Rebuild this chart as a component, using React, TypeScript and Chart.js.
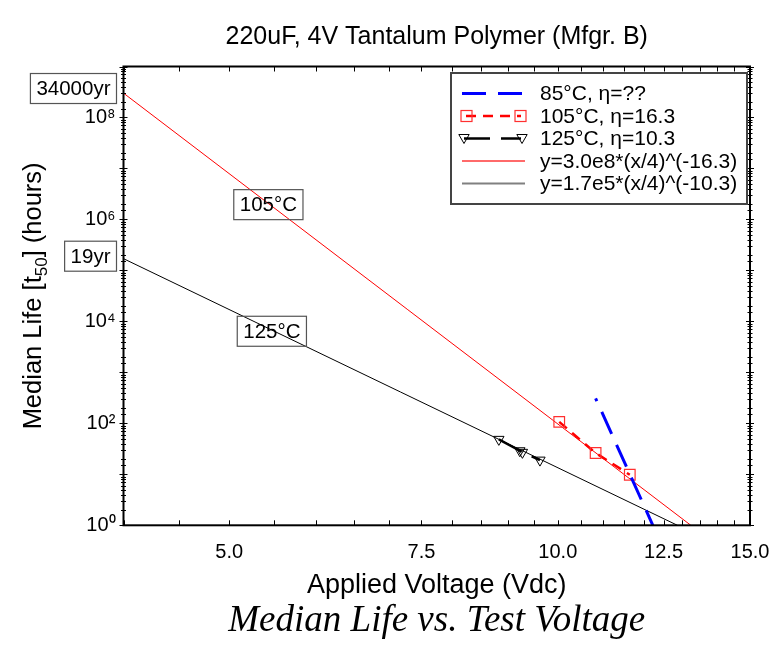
import React, { useEffect, useRef } from 'react';
import { Chart, registerables } from 'chart.js';

Chart.register(...registerables);

// ---------- text ----------
const TITLE = '220uF, 4V Tantalum Polymer (Mfgr. B)';
const X_TITLE = 'Applied Voltage (Vdc)';
const Y_TITLE_PARTS = ['Median Life [t', '50', '] (hours)'];
const CAPTION = 'Median Life vs. Test Voltage';

// ---------- data (voltage in Vdc, life in hours) ----------
const label85 = '85°C, η=??';
const v85 = [10.83, 12.22];
const life85 = [310, 1];

const label105 = '105°C, η=16.3';
const v105 = [10.03, 10.83, 11.64];
const life105 = [107, 26.2, 9.8];

const label125 = '125°C, η=10.3';
const v125 = [8.83, 9.23, 9.28, 9.63];
const life125 = [48.5, 29, 27, 19];

const labelFit105 = 'y=3.0e8*(x/4)^(-16.3)';
const vFit105 = [4, 13.24];
const lifeFit105 = [3.0e8, 1];

const labelFit125 = 'y=1.7e5*(x/4)^(-10.3)';
const vFit125 = [4, 12.87];
const lifeFit125 = [1.7e5, 1];

// ---------- ticks ----------
const xTickValues = [4, 4.5, 5, 5.5, 6, 6.5, 7, 7.5, 8, 8.5, 9, 9.5, 10, 10.5, 11, 11.5, 12, 12.5, 13, 13.5, 14, 14.5, 15];
const xLabeledTicks = [5, 7.5, 10, 12.5, 15];
const yLabeledExponents = [0, 2, 4, 6, 8];
const superscripts: Record<string, string> = { '0': '⁰', '2': '²', '4': '⁴', '6': '⁶', '8': '⁸' };

// ---------- annotations ----------
const tempLabels = ['105°C', '125°C'];
const tempLabelV = [5.43, 5.47];
const tempLabelLife = [1.95e6, 6.4e3];
const yearLabels = ['34000yr', '19yr'];
const yearLabelLife = [3.7e8, 1.9e5];

const SANS = '"Liberation Sans", Arial, Helvetica, sans-serif';
const SERIF = '"Liberation Serif", "Times New Roman", serif';

const pts = (xs: number[], ys: number[]) => xs.map((x, i) => ({ x, y: ys[i] }));

function drawDownTriangle(ctx: CanvasRenderingContext2D, x: number, y: number, r: number) {
  ctx.beginPath();
  ctx.moveTo(x - r * 0.866, y - r * 0.5);
  ctx.lineTo(x + r * 0.866, y - r * 0.5);
  ctx.lineTo(x, y + r);
  ctx.closePath();
  ctx.stroke();
}

const overlayPlugin = {
  id: 'overlay',
  afterDraw(chart: any) {
    const ctx: CanvasRenderingContext2D = chart.ctx;
    const ca = chart.chartArea;
    const xs = chart.scales.x;
    const ys = chart.scales.y;
    ctx.save();

    // frame
    ctx.strokeStyle = '#000';
    ctx.lineWidth = 2;
    ctx.setLineDash([]);
    ctx.strokeRect(ca.left, ca.top, ca.right - ca.left, ca.bottom - ca.top);

    // x ticks (inward, top and bottom)
    ctx.lineWidth = 1;
    xs.ticks.forEach((t: any) => {
      const px = Math.round(xs.getPixelForValue(t.value)) + 0.5;
      ctx.beginPath();
      ctx.moveTo(px, ca.bottom);
      ctx.lineTo(px, ca.bottom - 5);
      ctx.moveTo(px, ca.top);
      ctx.lineTo(px, ca.top + 5);
      ctx.stroke();
    });
    // y ticks (crossing, left and right)
    ys.ticks.forEach((t: any) => {
      const e = Math.log10(t.value);
      const major = Math.abs(e - Math.round(e)) < 1e-9;
      const len = major ? 4 : 2.5;
      const py = Math.round(ys.getPixelForValue(t.value)) + 0.5;
      ctx.beginPath();
      ctx.moveTo(ca.left - len, py);
      ctx.lineTo(ca.left + len, py);
      ctx.moveTo(ca.right - len, py);
      ctx.lineTo(ca.right + len, py);
      ctx.stroke();
    });

    // y axis title with subscript
    ctx.save();
    ctx.translate(32, (ca.top + ca.bottom) / 2);
    ctx.rotate(-Math.PI / 2);
    ctx.fillStyle = '#000';
    ctx.textBaseline = 'alphabetic';
    ctx.textAlign = 'left';
    const mainFont = `25.5px ${SANS}`;
    const subFont = `17px ${SANS}`;
    ctx.font = mainFont;
    const w1 = ctx.measureText(Y_TITLE_PARTS[0]).width;
    const w3 = ctx.measureText(Y_TITLE_PARTS[2]).width;
    ctx.font = subFont;
    const w2 = ctx.measureText(Y_TITLE_PARTS[1]).width;
    const x0 = -(w1 + w2 + w3) / 2;
    const base = 8.8;
    ctx.font = mainFont;
    ctx.fillText(Y_TITLE_PARTS[0], x0, base);
    ctx.font = subFont;
    ctx.fillText(Y_TITLE_PARTS[1], x0 + w1, base + 6);
    ctx.font = mainFont;
    ctx.fillText(Y_TITLE_PARTS[2], x0 + w1 + w2, base);
    ctx.restore();

    // boxed labels
    const boxLabel = (text: string, cx: number, cy: number, anchorRight?: number) => {
      ctx.font = `20.5px ${SANS}`;
      const w = ctx.measureText(text).width + 12;
      const h = 30;
      const left = anchorRight !== undefined ? anchorRight - w : cx - w / 2;
      ctx.strokeStyle = '#555';
      ctx.lineWidth = 1.2;
      ctx.setLineDash([]);
      ctx.strokeRect(left, cy - h / 2, w, h);
      ctx.fillStyle = '#000';
      ctx.textAlign = 'left';
      ctx.textBaseline = 'middle';
      ctx.fillText(text, left + 6, cy + 1);
    };
    tempLabels.forEach((t, i) => {
      boxLabel(t, xs.getPixelForValue(tempLabelV[i]), ys.getPixelForValue(tempLabelLife[i]));
    });
    yearLabels.forEach((t, i) => {
      boxLabel(t, 0, ys.getPixelForValue(yearLabelLife[i]), ca.left - 7);
    });

    // legend
    const lx = 451, ly = 73, lw = 296, lh = 131;
    ctx.strokeStyle = '#444';
    ctx.lineWidth = 2;
    ctx.setLineDash([]);
    ctx.strokeRect(lx, ly, lw, lh);
    const rowY = [93.5, 116, 138.5, 161, 183.5];
    const sx0 = 462, sx1 = 525;
    const labels = [label85, label105, label125, labelFit105, labelFit125];
    // row 0: blue dashed
    ctx.strokeStyle = '#0000ff';
    ctx.lineWidth = 3;
    ctx.setLineDash([24, 12]);
    ctx.beginPath(); ctx.moveTo(sx0, rowY[0]); ctx.lineTo(sx1 + 3, rowY[0]); ctx.stroke();
    // row 1: red dashed + squares
    ctx.strokeStyle = '#ff0000';
    ctx.lineWidth = 2.5;
    ctx.setLineDash([10, 7]);
    ctx.beginPath(); ctx.moveTo(sx0 + 4, rowY[1]); ctx.lineTo(sx1 - 4, rowY[1]); ctx.stroke();
    ctx.setLineDash([]);
    ctx.lineWidth = 1.2;
    ctx.strokeStyle = '#ff3030';
    ctx.strokeRect(sx0 - 1, rowY[1] - 5.5, 11, 11);
    ctx.strokeRect(sx1 - 10, rowY[1] - 5.5, 11, 11);
    // row 2: black dashed + triangles
    ctx.strokeStyle = '#000';
    ctx.lineWidth = 2.5;
    ctx.setLineDash([26, 11]);
    ctx.beginPath(); ctx.moveTo(sx0 + 2, rowY[2]); ctx.lineTo(sx1 - 4, rowY[2]); ctx.stroke();
    ctx.setLineDash([]);
    ctx.lineWidth = 1;
    drawDownTriangle(ctx, sx0 + 2, rowY[2] - 1, 6);
    drawDownTriangle(ctx, sx1 - 3, rowY[2] - 1, 6);
    // row 3/4: fits
    ctx.lineWidth = 2;
    ctx.strokeStyle = '#ff6a6a';
    ctx.beginPath(); ctx.moveTo(sx0, rowY[3]); ctx.lineTo(sx1, rowY[3]); ctx.stroke();
    ctx.strokeStyle = '#808080';
    ctx.beginPath(); ctx.moveTo(sx0, rowY[4]); ctx.lineTo(sx1, rowY[4]); ctx.stroke();
    // texts
    ctx.fillStyle = '#000';
    ctx.font = `21px ${SANS}`;
    ctx.textAlign = 'left';
    ctx.textBaseline = 'middle';
    labels.forEach((t, i) => ctx.fillText(t, 540, rowY[i] + 1));

    ctx.restore();
  },
};

export default function App() {
  const ref = useRef<HTMLCanvasElement | null>(null);
  useEffect(() => {
    if (!ref.current) return;
    const chart = new Chart(ref.current, {
      type: 'line',
      data: {
        datasets: [
          {
            label: label85,
            data: pts(v85, life85),
            borderColor: '#0000ff',
            borderWidth: 3,
            borderDash: [24, 12],
            borderDashOffset: 21,
            pointRadius: 0,
            fill: false,
          },
          {
            label: label105,
            data: pts(v105, life105),
            borderColor: '#ff0000',
            borderWidth: 2.5,
            borderDash: [10, 7],
            pointStyle: 'rect',
            pointRadius: 7.5,
            pointBorderColor: '#ff3030',
            pointBorderWidth: 1.2,
            pointBackgroundColor: 'rgba(0,0,0,0)',
            fill: false,
          },
          {
            label: label125,
            data: pts(v125, life125),
            borderColor: '#000',
            borderWidth: 2.5,
            borderDash: [26, 11],
            pointStyle: 'triangle',
            pointRotation: 180,
            pointRadius: 6,
            pointBorderColor: '#000',
            pointBorderWidth: 1,
            pointBackgroundColor: 'rgba(0,0,0,0)',
            fill: false,
          },
          {
            label: labelFit105,
            data: pts(vFit105, lifeFit105),
            borderColor: '#ff0000',
            borderWidth: 1,
            pointRadius: 0,
            fill: false,
          },
          {
            label: labelFit125,
            data: pts(vFit125, lifeFit125),
            borderColor: '#000',
            borderWidth: 1,
            pointRadius: 0,
            fill: false,
          },
        ],
      },
      options: {
        animation: false,
        responsive: true,
        maintainAspectRatio: false,
        events: [],
        layout: { padding: { left: 0, right: 24, top: 0, bottom: 0 } },
        plugins: {
          legend: { display: false },
          tooltip: { enabled: false },
          title: {
            display: true,
            fullSize: false,
            text: TITLE,
            color: '#000',
            font: { family: SANS, size: 25, weight: 'normal', lineHeight: 1.2 },
            padding: { top: 22.5, bottom: 14 },
          },
          subtitle: {
            display: true,
            fullSize: false,
            position: 'bottom',
            text: CAPTION,
            color: '#000',
            font: { family: SERIF, size: 37, style: 'italic', weight: 'normal', lineHeight: 0.9 },
            padding: { top: 0, bottom: 7.85 },
          },
        },
        scales: {
          x: {
            type: 'logarithmic',
            min: 4,
            max: 15,
            grid: { display: false, drawTicks: false },
            border: { display: false },
            afterBuildTicks: (s: any) => {
              s.ticks = xTickValues.map((v) => ({ value: v }));
            },
            afterFit: (s: any) => {
              s.height = 79.55;
              s.paddingLeft = 0;
              s.paddingRight = 0;
            },
            ticks: {
              autoSkip: false,
              maxRotation: 0,
              minRotation: 0,
              padding: 15,
              color: '#000',
              font: { family: SANS, size: 20 },
              callback: (v: any) => (xLabeledTicks.includes(Number(v)) ? Number(v).toFixed(1) : ''),
            },
            title: {
              display: true,
              text: X_TITLE,
              color: '#000',
              font: { family: SANS, size: 27, lineHeight: 1 },
              padding: { top: 0, bottom: 5.35 },
            },
          },
          y: {
            type: 'logarithmic',
            min: 1,
            max: 1e9,
            grid: { display: false, drawTicks: false },
            border: { display: false },
            afterFit: (s: any) => {
              s.width = 123.5;
              s.paddingTop = 0;
              s.paddingBottom = 0;
            },
            ticks: {
              autoSkip: false,
              padding: 8,
              color: '#000',
              font: { family: SANS, size: 20 },
              callback: (v: any) => {
                const e = Math.log10(Number(v));
                const r = Math.round(e);
                if (Math.abs(e - r) < 1e-9 && yLabeledExponents.includes(r)) {
                  return '10' + superscripts[String(r)];
                }
                return '';
              },
            },
          },
        },
      },
      plugins: [overlayPlugin],
    } as any);
    return () => chart.destroy();
  }, []);

  return (
    <div style={{ position: 'fixed', left: 0, top: 0, width: 774, height: 646, background: '#fff' }}>
      <canvas ref={ref} />
    </div>
  );
}
